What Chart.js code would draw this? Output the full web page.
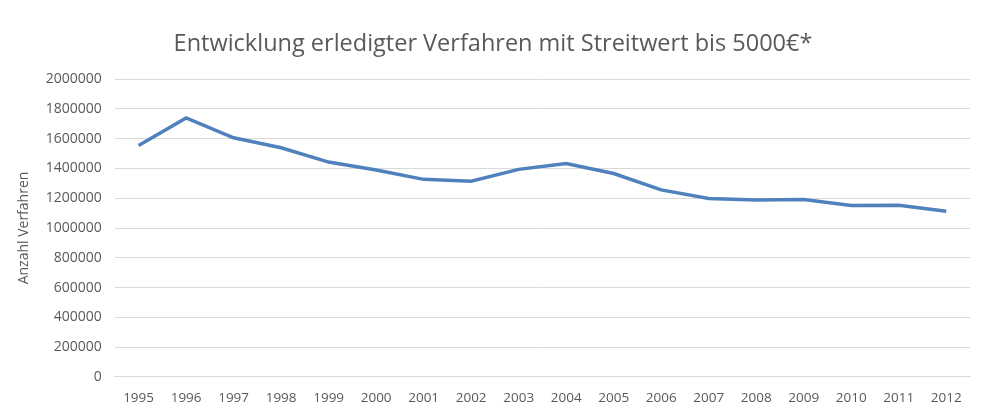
<!DOCTYPE html>
<html>
<head>
<meta charset="utf-8">
<script src="https://cdn.jsdelivr.net/npm/chart.js@4"></script>
<style>
  body { margin: 0; background: #fff; }
  #wrap { width: 989px; height: 417px; }
</style>
</head>
<body>
<div id="wrap"><canvas id="verfahren-chart"></canvas></div>
<script>
// Erledigte Verfahren mit Streitwert bis 5000€
const jahre = ["1995", "1996", "1997", "1998", "1999", "2000", "2001", "2002", "2003",
  "2004", "2005", "2006", "2007", "2008", "2009", "2010", "2011", "2012"];
const verfahren = [1555000, 1740000, 1606000, 1539000, 1443000, 1390000, 1327000, 1315000, 1394000,
  1434000, 1366000, 1256000, 1199000, 1188000, 1191000, 1152000, 1153000, 1112000];
const yMin = 0;
const yMax = 2000000;
const yStep = 200000;

const grau = "#595959";

new Chart("verfahren-chart", {
  type: "line",
  data: {
    labels: jahre,
    datasets: [{
      label: "Verfahren",
      data: verfahren,
      borderColor: "#4f81bd",
      borderWidth: 3.5,
      pointRadius: 0,
      tension: 0,
      fill: false
    }]
  },
  options: {
    maintainAspectRatio: false,
    animation: false,
    layout: { padding: { top: 30, right: 19, bottom: -2, left: 16 } },
    plugins: {
      legend: { display: false },
      tooltip: { enabled: false },
      title: {
        display: true,
        text: "Entwicklung erledigter Verfahren mit Streitwert bis 5000€*",
        color: grau,
        font: { family: "Open Sans", size: 23.5, weight: "normal" },
        padding: { top: 0, bottom: 21 }
      }
    },
    scales: {
      x: {
        offset: true,
        grid: { display: false, drawTicks: false },
        border: { color: "#d9d9d9", width: 1 },
        ticks: {
          color: grau,
          font: { family: "Open Sans", size: 13.5 },
          padding: 13,
          maxRotation: 0,
          autoSkip: false
        }
      },
      y: {
        min: yMin,
        max: yMax,
        grid: { color: "#d9d9d9", drawTicks: false },
        border: { display: false },
        ticks: {
          stepSize: yStep,
          color: grau,
          font: { family: "Open Sans", size: 14 },
          padding: 13,
          callback: (v) => String(v)
        },
        title: {
          display: true,
          text: "Anzahl Verfahren",
          color: grau,
          font: { family: "Open Sans", size: 14 },
          padding: { top: 0, bottom: 0 }
        }
      }
    }
  }
});
</script>
</body>
</html>
